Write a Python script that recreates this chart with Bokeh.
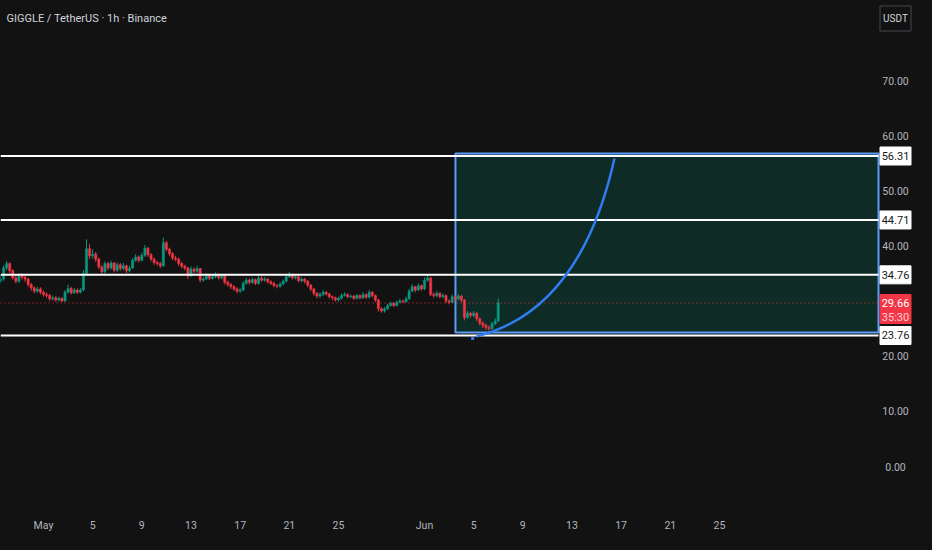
from bokeh.plotting import figure
from bokeh.models import ColumnDataSource, Label, FixedTicker, Range1d, GlobalInlineStyleSheet
from bokeh.core.properties import value
from bokeh.embed import file_html
from bokeh.resources import INLINE

# ---------------- data ----------------
title_text = "GIGGLE / TetherUS \u00b7 1h \u00b7 Binance"
quote_ccy = "USDT"

# candles aggregated to 6h, x = days since May 1 00:00
candle_start_day = -3.5
candle_step_days = 0.25
first_open = 33.6
closes = [
    34.0, 36.0,
    36.8, 35.5, 34.2, 33.6,
    34.6, 34.3, 34.0, 33.0,
    32.4, 31.8, 32.2, 31.6,
    31.2, 31.0, 30.4, 30.6,
    30.2, 30.5, 30.0, 31.6,
    32.3, 31.5, 32.0, 31.6,
    32.0, 35.0, 39.5, 38.2,
    38.5, 37.6, 36.2, 35.3,
    36.8, 36.0, 36.9, 35.6,
    36.6, 35.9, 36.4, 35.5,
    36.0, 37.4, 38.0, 37.4,
    38.3, 39.6, 38.4, 37.6,
    37.0, 36.8, 36.4, 40.6,
    39.4, 38.6, 37.8, 37.6,
    36.8, 36.3, 36.0, 34.6,
    35.8, 35.4, 35.9, 33.8,
    34.0, 34.6, 34.1, 34.4,
    34.7, 34.2, 34.6, 33.4,
    33.0, 32.6, 32.2, 31.8,
    32.0, 33.2, 33.8, 33.4,
    33.9, 33.2, 34.2, 33.8,
    34.0, 33.5, 33.2, 32.8,
    32.7, 33.1, 33.6, 34.4,
    34.8, 34.2, 34.4, 33.7,
    34.0, 33.6, 32.9, 32.2,
    31.4, 30.9, 31.2, 31.6,
    31.3, 30.8, 30.6, 30.2,
    30.5, 31.0, 31.2, 30.8,
    30.9, 30.5, 31.0, 30.6,
    31.2, 30.7, 31.6, 31.0,
    30.2, 28.6, 28.2, 28.6,
    29.2, 29.6, 29.2, 29.8,
    30.0, 29.9, 30.4, 31.8,
    32.6, 32.0, 32.8, 32.2,
    33.8, 34.2, 31.2, 31.0,
    31.4, 30.8, 31.0, 30.0,
    29.8, 30.8, 30.4, 30.9,
    30.2, 27.0, 27.8, 27.4,
    27.8, 26.8, 26.0, 25.6,
    25.2, 25.0, 25.9, 26.4,
    29.66,
]
highs = [
    34.8, 36.5,
    37.3, 37.0, 35.8, 34.6,
    35.0, 35.1, 34.7, 34.2,
    33.3, 32.7, 32.6, 32.5,
    31.9, 31.6, 31.3, 31.0,
    30.9, 30.8, 30.7, 32.0,
    33.0, 32.6, 32.4, 32.3,
    32.4, 35.6, 41.2, 40.4,
    39.4, 38.9, 37.9, 36.5,
    37.2, 37.1, 37.3, 37.1,
    37.0, 36.9, 36.9, 36.6,
    36.4, 37.8, 38.5, 38.3,
    38.8, 40.2, 39.8, 38.7,
    37.9, 37.3, 37.1, 41.5,
    40.9, 39.7, 38.9, 38.2,
    37.9, 37.1, 36.6, 36.2,
    36.3, 36.1, 36.4, 36.0,
    34.4, 35.0, 34.9, 34.8,
    35.2, 35.0, 34.9, 34.8,
    33.7, 33.3, 32.9, 32.5,
    32.4, 33.6, 34.2, 34.1,
    34.3, 34.1, 34.6, 34.5,
    34.4, 34.2, 33.8, 33.5,
    33.1, 33.4, 33.9, 34.8,
    35.3, 35.0, 34.8, 34.6,
    34.3, 34.2, 33.8, 33.1,
    32.4, 31.6, 31.6, 32.0,
    31.8, 31.5, 31.0, 30.8,
    30.8, 31.4, 31.6, 31.4,
    31.2, 31.1, 31.3, 31.2,
    31.6, 31.4, 32.0, 31.8,
    31.2, 30.4, 28.9, 28.9,
    29.5, 29.9, 29.8, 30.1,
    30.4, 30.3, 30.8, 32.2,
    33.1, 32.8, 33.2, 33.0,
    34.3, 34.8, 34.4, 31.6,
    31.8, 31.6, 31.4, 31.2,
    30.3, 31.2, 31.0, 31.3,
    31.1, 30.4, 28.2, 28.0,
    28.2, 28.0, 27.0, 26.3,
    25.9, 25.6, 26.2, 26.9,
    30.5,
]
lows = [
    33.2, 33.7,
    35.6, 35.0, 33.9, 33.2,
    33.3, 33.9, 33.5, 32.6,
    31.9, 31.4, 31.5, 31.2,
    30.8, 30.6, 30.0, 30.1,
    29.9, 29.9, 29.8, 29.9,
    31.4, 31.2, 31.3, 31.3,
    31.4, 31.8, 34.8, 37.6,
    37.7, 37.1, 35.8, 34.8,
    35.0, 35.6, 35.7, 35.2,
    35.3, 35.5, 35.6, 35.1,
    35.2, 35.8, 37.1, 37.0,
    37.2, 38.0, 38.0, 37.2,
    36.6, 36.4, 36.0, 36.2,
    39.0, 38.2, 37.4, 37.2,
    36.4, 35.9, 35.6, 34.0,
    34.4, 35.0, 35.1, 33.4,
    33.5, 33.8, 33.8, 33.9,
    34.1, 33.9, 33.9, 33.0,
    32.6, 32.2, 31.8, 31.4,
    31.5, 31.8, 33.0, 33.0,
    33.1, 32.9, 33.0, 33.5,
    33.5, 33.2, 32.9, 32.5,
    32.3, 32.4, 32.9, 33.4,
    34.2, 33.9, 33.9, 33.4,
    33.4, 33.2, 32.5, 31.8,
    31.0, 30.5, 30.6, 30.9,
    31.0, 30.5, 30.2, 29.9,
    29.9, 30.3, 30.8, 30.5,
    30.5, 30.2, 30.3, 30.3,
    30.4, 30.4, 30.5, 30.7,
    29.8, 28.1, 27.9, 27.9,
    28.4, 29.0, 28.9, 29.0,
    29.6, 29.6, 29.7, 30.2,
    31.6, 31.6, 31.8, 31.9,
    32.0, 33.5, 30.9, 30.6,
    30.7, 30.5, 30.5, 29.6,
    29.4, 29.6, 30.0, 30.1,
    29.8, 26.5, 26.8, 27.0,
    27.1, 26.4, 25.6, 25.1,
    24.8, 24.2, 24.8, 25.6,
    26.2,
]

levels = [56.31, 44.71, 34.76, 23.76]
level_labels = ["56.31", "44.71", "34.76", "23.76"]
last_price = 29.66
last_price_label = "29.66"
countdown = "35:30"

box_left_day = 33.52
box_top = 56.75
box_bottom = 24.3

curve_start = (35.23, 23.58)
curve_ctrl = (43.69, 28.29)
curve_end = (46.46, 55.86)
marker_point = (34.92, 23.2)

x_tick_days = [0, 4, 8, 12, 16, 20, 24, 31, 35, 39, 43, 47, 51, 55]
x_tick_labels = ["May", "5", "9", "13", "17", "21", "25",
                 "Jun", "5", "9", "13", "17", "21", "25"]
y_ticks = [0, 10, 20, 40, 50, 60, 70]
y_tick_labels = ["0.00", "10.00", "20.00", "40.00", "50.00", "60.00", "70.00"]

# ---------------- layout / style ----------------
W, H = 916, 534
BOTTOM = 38
FRAME_H = H - BOTTOM
PX_PER_DAY = 12.29
PX_PER_UNIT = 5.514
x_start = -43 / PX_PER_DAY
x_end = x_start + W / PX_PER_DAY
y_end = 466 / PX_PER_UNIT
y_start = y_end - FRAME_H / PX_PER_UNIT
chart_end = x_start + 878 / PX_PER_DAY          # where the price scale begins
tag_x = x_start + 895 / PX_PER_DAY              # centre of the price-scale tags

BG = "#121212"
UP = "#089981"
DOWN = "#f23645"
TXT = "#b2b5be"
FONT = "Roboto"
BOX_FILL = "#0f2b26"
BOX_LINE = "#5b9cf6"
CURVE = "#2f7df2"

# ---------------- build ----------------
n = len(closes)
t = [candle_start_day + candle_step_days * i for i in range(n)]
opens = [first_open] + closes[:-1]
colors = [UP if c >= o else DOWN for o, c in zip(opens, closes)]
src = ColumnDataSource(dict(
    t=t, high=highs, low=lows,
    top=[max(o, c) for o, c in zip(opens, closes)],
    bottom=[min(o, c) for o, c in zip(opens, closes)],
    color=colors,
))

p = figure(width=W, height=H, frame_width=W, frame_height=FRAME_H,
           x_range=Range1d(x_start, x_end), y_range=Range1d(y_start, y_end),
           output_backend="svg", toolbar_location=None,
           y_axis_location=None,
           background_fill_color=BG, border_fill_color=BG,
           outline_line_color=None,
           min_border_left=0, min_border_top=0,
           min_border_right=0, min_border_bottom=BOTTOM)
p.stylesheets = [GlobalInlineStyleSheet(css="html, body { background: #121212; }")]
p.grid.visible = False

# projection box
p.quad(left=[box_left_day], right=[chart_end], top=[box_top], bottom=[box_bottom],
       fill_color=BOX_FILL, line_color=BOX_LINE, line_width=2)

# candles
p.segment(x0="t", y0="high", x1="t", y1="low", color="color", line_width=1, source=src)
p.vbar(x="t", width=candle_step_days * 0.72, top="top", bottom="bottom",
       fill_color="color", line_color="color", line_width=0.5, source=src)

# level lines
p.segment(x0=[x_start] * len(levels), y0=levels, x1=[chart_end] * len(levels), y1=levels,
          line_color="white", line_width=2)

# current price dotted line
p.segment(x0=[x_start], y0=[last_price], x1=[chart_end], y1=[last_price],
          line_color=DOWN, line_width=1, line_dash="1 3")

# projected curve
p.quadratic(x0=[curve_start[0]], y0=[curve_start[1]],
            x1=[curve_end[0]], y1=[curve_end[1]],
            cx=[curve_ctrl[0]], cy=[curve_ctrl[1]],
            line_color=CURVE, line_width=2.5)
p.scatter(x=[marker_point[0]], y=[marker_point[1]], marker="square", size=3,
          fill_color=CURVE, line_color=None)

# price scale (right side, drawn through the same y scale)
p.text(x=[tag_x] * len(y_ticks), y=y_ticks, text=y_tick_labels,
       text_color=TXT, text_font=value(FONT), text_font_size="10.5px",
       text_align="center", text_baseline="middle")

p.rect(x=[tag_x] * len(levels), y=levels, width=31, height=18,
       width_units="screen", height_units="screen",
       fill_color="white", line_color="white")
p.text(x=[tag_x] * len(levels), y=levels, text=level_labels,
       text_color="#131722", text_font=value(FONT), text_font_size="11px",
       text_align="center", text_baseline="middle")

p.rect(x=[tag_x], y=[last_price - 6 / PX_PER_UNIT], width=31, height=29,
       width_units="screen", height_units="screen",
       fill_color=DOWN, line_color=DOWN)
p.text(x=[tag_x], y=[last_price], text=[last_price_label],
       text_color="white", text_font=value(FONT), text_font_size="11px",
       text_align="center", text_baseline="middle")
p.text(x=[tag_x], y=[last_price - 14.5 / PX_PER_UNIT], text=[countdown],
       text_color="#ffd0d5", text_font=value(FONT), text_font_size="11px",
       text_align="center", text_baseline="middle")

usdt_y = y_end - 18 / PX_PER_UNIT
p.rect(x=[tag_x], y=[usdt_y], width=31, height=25,
       width_units="screen", height_units="screen",
       fill_color=BG, line_color="#434651", line_width=1)
p.text(x=[tag_x], y=[usdt_y], text=[quote_ccy],
       text_color="#d1d4dc", text_font=value(FONT), text_font_size="10px",
       text_align="center", text_baseline="middle")

# time axis
xa = p.xaxis[0]
xa.ticker = FixedTicker(ticks=x_tick_days)
xa.major_label_overrides = {d: lab for d, lab in zip(x_tick_days, x_tick_labels)}
xa.axis_line_color = None
xa.major_tick_line_color = None
xa.minor_tick_line_color = None
xa.major_label_text_color = TXT
xa.major_label_text_font = FONT
xa.major_label_text_font_size = "10.5px"
xa.major_label_standoff = 16

# title
p.add_layout(Label(x=x_start, y=y_end, x_offset=6, y_offset=-18,
                   text=title_text, text_color="#d1d4dc", text_font=FONT,
                   text_font_size="11px", text_baseline="middle", text_align="left"))

open("out.html", "w").write(file_html(p, INLINE))
